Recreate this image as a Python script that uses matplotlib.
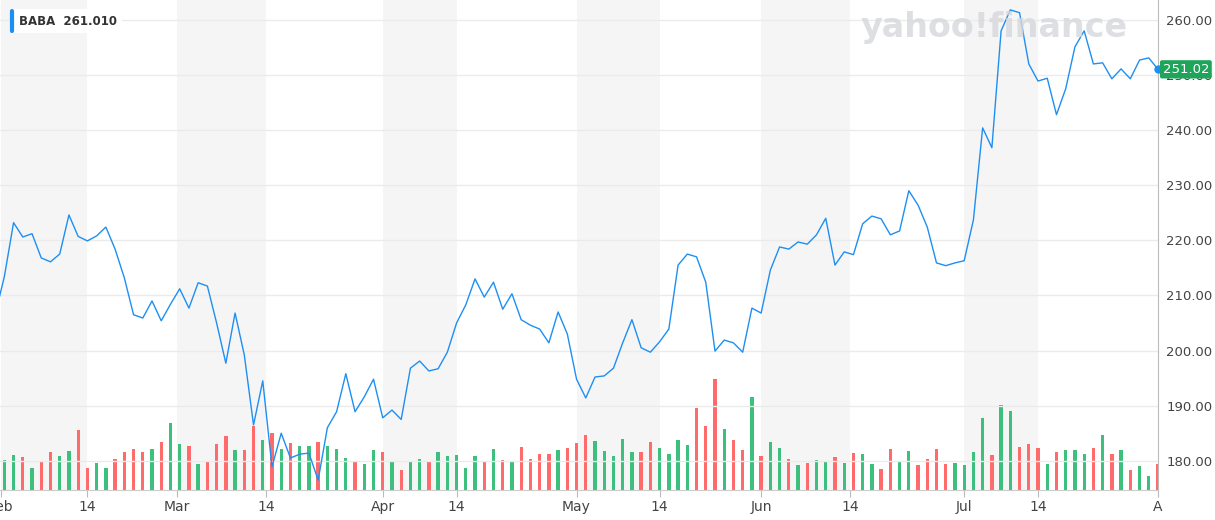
import numpy as np
import pandas as pd
import matplotlib
matplotlib.use("Agg")
import matplotlib.pyplot as plt

# BABA daily closes, Feb 3 - Jul 31 2020
prev_close = 206.5
close = [213.4, 223.2, 220.6, 221.2, 216.8, 216.1, 217.5, 224.6, 220.7, 219.9,
         220.8, 222.4, 218.4, 213.2, 206.5, 205.9, 209.0, 205.4, 208.4, 211.2,
         207.7, 212.3, 211.7, 205.0, 197.7, 206.8, 199.2, 186.5, 194.5, 178.9,
         185.0, 180.5, 181.2, 181.4, 176.5, 186.0, 188.9, 195.8, 188.9, 191.6,
         194.8, 187.8, 189.2, 187.5, 196.8, 198.1, 196.3, 196.7, 199.7, 205.0,
         208.3, 213.0, 209.7, 212.4, 207.5, 210.3, 205.6, 204.6, 203.9, 201.4,
         207.0, 203.0, 194.8, 191.4, 195.2, 195.4, 196.8, 201.4, 205.6, 200.5,
         199.7, 201.6, 203.9, 215.5, 217.5, 217.0, 212.4, 199.9, 201.9, 201.4,
         199.7, 207.7, 206.8, 214.6, 218.8, 218.4, 219.7, 219.3, 221.0, 224.0,
         215.5, 217.9, 217.4, 223.0, 224.4, 223.9, 221.0, 221.7, 229.0, 226.4,
         222.4, 215.9, 215.4, 215.9, 216.3, 223.7, 240.4, 236.8, 258.0, 261.8,
         261.3, 252.0, 248.9, 249.4, 242.8, 247.5, 255.1, 258.0, 252.0, 252.2,
         249.3, 251.1, 249.3, 252.7, 253.1, 251.02]

# volume, millions of shares
volume = [15, 17.5, 16.5, 11, 14.5, 19, 17, 19.5, 30, 11,
          13.5, 11, 15.5, 19, 20.5, 19, 20.5, 24, 33.5, 23,
          22, 13, 14, 23, 27, 20, 20, 32, 25, 28.5,
          20.5, 23.5, 22, 22, 24, 22, 20.5, 16, 14, 13,
          20, 19, 14, 10, 14, 15.5, 14, 19, 17, 17.5,
          11, 17, 14, 20.5, 15, 14, 21.5, 15.5, 18, 18,
          20, 21, 23.5, 27.5, 24.5, 19.5, 17, 25.5, 19, 19,
          24, 21, 18, 25, 22.5, 41, 32, 55.5, 30.5, 25,
          20, 46.5, 17, 24, 21, 15.5, 12.5, 13.5, 15, 14,
          16.5, 13.5, 18.5, 18, 13, 10.5, 20.5, 14, 19.5, 12.5,
          15.5, 20.5, 13, 13.5, 12.5, 19, 36, 17.5, 42.5, 39.5,
          21.5, 23, 21, 13, 19, 20, 20, 18, 21, 27.5,
          18, 20, 10, 12, 7, 13]

holidays = ["2020-02-17", "2020-04-10", "2020-05-25", "2020-07-03"]
dates = pd.bdate_range("2020-02-03", "2020-07-31")
dates = dates[~dates.isin(pd.to_datetime(holidays))]
idx = np.arange(len(close))
day_num = dates.map(pd.Timestamp.toordinal).values.astype(float)


def pos(d):
    o = pd.Timestamp(d).toordinal()
    # extrapolate linearly outside the range
    if o < day_num[0]:
        return (o - day_num[0]) / 5.0
    return np.interp(o, day_num, idx)


tick_dates = ["2020-02-01", "2020-02-14", "2020-03-01", "2020-03-14", "2020-04-01",
              "2020-04-14", "2020-05-01", "2020-05-14", "2020-06-01", "2020-06-14",
              "2020-07-01", "2020-07-14"]
tick_labels = ["Feb", "14", "Mar", "14", "Apr", "14", "May", "14", "Jun", "14", "Jul", "14"]

up = np.diff(np.r_[prev_close, close]) >= 0
colors = np.where(up, "#3dbf7d", "#ff6b6b")

fig = plt.figure(figsize=(12.15, 5.2), dpi=100)
ax = fig.add_axes([0, 30 / 520, 1158 / 1215, 490 / 520])
axv = ax.twinx()
ax.set_zorder(axv.get_zorder() + 1)
ax.patch.set_visible(False)

xmin, xmax = -0.47, 125.0
# month shading (1st to 14th)
for m in range(0, len(tick_dates), 2):
    axv.axvspan(pos(tick_dates[m]), pos(tick_dates[m + 1]), color="#f5f5f5", lw=0, zorder=0)

axv.bar(idx, volume, width=0.36, color=colors, zorder=2, lw=0)
axv.set_ylim(0, 245)
axv.set_yticks([])
for s in axv.spines.values():
    s.set_visible(False)

ax.plot(np.r_[-1, idx], np.r_[prev_close, close], color="#1e8ff2", lw=1.0, zorder=3)
ax.plot(idx[-1], close[-1], "o", color="#1e8ff2", ms=5, zorder=4, clip_on=False)
ax.set_xlim(xmin, xmax)
ax.set_ylim(174.7, 263.6)

ax.yaxis.tick_right()
ax.set_yticks(np.arange(180, 261, 10))
ax.set_yticklabels(["%.2f" % v for v in np.arange(180, 261, 10)], fontsize=9.5, color="#444")
ax.tick_params(axis="y", length=0, pad=6)
for y in np.arange(180, 261, 10):
    ax.axhline(y, color="#ebebeb", lw=1, zorder=1)

ax.set_xticks([pos(d) for d in tick_dates] + [125.0])
ax.set_xticklabels(tick_labels + ["A"], fontsize=10, color="#444")
ax.tick_params(axis="x", length=5, color="#bbb", pad=2)
for k in ["top", "left"]:
    ax.spines[k].set_visible(False)
ax.spines["right"].set_color("#bbb")
ax.spines["bottom"].set_color("#ccc")

# legend box
ax.text(0.016, 0.957, "BABA  261.010", transform=ax.transAxes, fontsize=8.5,
        color="#333", fontweight="bold", va="center", zorder=6,
        bbox=dict(boxstyle="square,pad=0.45", fc="white", ec="none"))
ax.plot([0.010, 0.010], [0.937, 0.977], transform=ax.transAxes, color="#1e8ff2",
        lw=3, solid_capstyle="round", zorder=7)

# watermark
fig.text(0.818, 0.948, "yahoo!finance", fontsize=24, fontweight="bold",
         color="#d5d8dc", ha="center", va="center", alpha=0.8)

# last price badge
ax.text(1.004, close[-1], "%.2f" % close[-1], transform=ax.get_yaxis_transform(),
        fontsize=9.5, color="white", va="center", ha="left", zorder=8,
        bbox=dict(boxstyle="round,pad=0.2,rounding_size=0.15", fc="#1ea55a", ec="none"))

fig.savefig("out.png", dpi=100)
